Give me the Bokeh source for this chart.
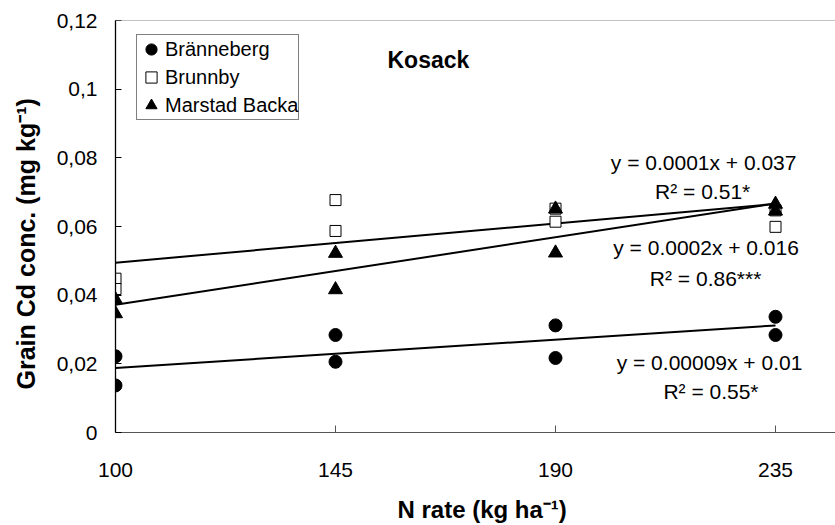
import numpy as np
from bokeh.plotting import figure
from bokeh.models import Range1d, FixedTicker, Label, Legend, LegendItem, Span
from bokeh.embed import file_html
from bokeh.resources import INLINE

# ---- data ----
x_ticks = [100, 145, 190, 235]
y_ticks = [0, 0.02, 0.04, 0.06, 0.08, 0.1, 0.12]
y_tick_labels = ["0", "0,02", "0,04", "0,06", "0,08", "0,1", "0,12"]

n_rate = [100, 100, 145, 145, 190, 190, 235, 235]
branneberg = [0.0222, 0.0137, 0.0284, 0.0206, 0.0312, 0.0217, 0.0337, 0.0284]
brunnby = [0.0448, 0.0418, 0.0677, 0.0587, 0.0652, 0.0614, 0.0647, 0.0599]
marstad = [0.0387, 0.0346, 0.0522, 0.0416, 0.0651, 0.0523, 0.0665, 0.0645]

series_names = ["Bränneberg", "Brunnby", "Marstad Backa"]
equations = [
    ("y = 0.00009x + 0.01", "R\u00b2 = 0.55*"),
    ("y = 0.0001x + 0.037", "R\u00b2 = 0.51*"),
    ("y = 0.0002x + 0.016", "R\u00b2 = 0.86***"),
]
panel_title = "Kosack"

FONT = "Liberation Sans"

p = figure(width=835, height=525, output_backend="svg", toolbar_location=None,
           x_range=Range1d(100, 247.27), y_range=Range1d(0, 0.12),
           min_border_left=115, min_border_right=0, min_border_top=20,
           min_border_bottom=92)
p.outline_line_color = None
p.xgrid.visible = False
p.ygrid.visible = False
p.background_fill_color = "white"
p.border_fill_color = "white"

# x axis
xa = p.xaxis[0]
xa.ticker = FixedTicker(ticks=x_ticks)
xa.axis_line_color = "#555555"
xa.major_tick_line_color = "#555555"
xa.major_tick_in = 7
xa.major_tick_out = 0
xa.minor_tick_line_color = None
xa.major_label_text_font = FONT
xa.major_label_text_font_size = "21px"
xa.major_label_text_color = "black"
xa.major_label_standoff = 30
xa.axis_label = "\u00a0\u00a0N rate (kg ha\u207b\u00b9)"
xa.axis_label_text_font = FONT
xa.axis_label_text_font_style = "bold"
xa.axis_label_text_font_size = "24px"
xa.axis_label_text_color = "black"
xa.axis_label_standoff = 16

# y axis
ya = p.yaxis[0]
ya.ticker = FixedTicker(ticks=y_ticks)
ya.major_label_overrides = {v: s for v, s in zip(y_ticks, y_tick_labels)}
ya.axis_line_color = "black"
ya.axis_line_width = 1.3
ya.major_tick_line_color = "black"
ya.major_tick_in = 6
ya.major_tick_out = 0
ya.minor_tick_line_color = None
ya.major_label_text_font = FONT
ya.major_label_text_font_size = "21px"
ya.major_label_text_color = "black"
ya.major_label_standoff = 18
ya.axis_label = "Grain Cd conc. (mg kg\u207b\u00b9)\u00a0\u00a0\u00a0\u00a0\u00a0"
ya.axis_label_text_font = FONT
ya.axis_label_text_font_style = "bold"
ya.axis_label_text_font_size = "25px"
ya.axis_label_text_color = "black"
ya.axis_label_standoff = 14

p.add_layout(Span(location=0.12, dimension="width", line_color="#888888", line_width=1))

# trend lines (least squares fit of each series)
for ys in (branneberg, brunnby, marstad):
    slope, intercept = np.polyfit(n_rate, ys, 1)
    xs = np.array([min(n_rate), max(n_rate)], dtype=float)
    p.line(xs, slope * xs + intercept, line_color="black", line_width=2)

r1 = p.scatter(n_rate, branneberg, marker="circle", size=13,
               fill_color="black", line_color="black")
r2 = p.scatter(n_rate, brunnby, marker="square", size=11,
               fill_color="white", line_color="black", line_width=1)
r3 = p.scatter(n_rate, marstad, marker="triangle", size=14,
               fill_color="black", line_color="black")

legend = Legend(
    items=[LegendItem(label=series_names[0], renderers=[r1]),
           LegendItem(label=series_names[1], renderers=[r2]),
           LegendItem(label=series_names[2], renderers=[r3])],
    location=(21, 312), glyph_width=28, glyph_height=28, padding=0, spacing=0,
    label_standoff=0, border_line_color="black", border_line_width=1,
    background_fill_color="white", background_fill_alpha=1.0,
    label_text_font=FONT, label_text_font_size="20px", label_text_color="black",
    margin=0)
p.add_layout(legend)

p.add_layout(Label(x=164.0, y=0.1084, text=panel_title, text_font=FONT,
                   text_font_size="23px", text_font_style="bold", text_color="black",
                   text_align="center", text_baseline="middle"))

eq_pos = [((221.5, 0.02025), (221.8, 0.0120)),
          ((220.3, 0.07875), (220.1, 0.07032)),
          ((220.8, 0.05376), (220.7, 0.04496))]
for (l1, l2), ((x1, y1), (x2, y2)) in zip(equations, eq_pos):
    for t, x, y in ((l1, x1, y1), (l2, x2, y2)):
        p.add_layout(Label(x=x, y=y, text=t, text_font=FONT, text_font_size="21px",
                           text_align="center", text_baseline="middle",
                           text_color="black"))

open("out.html", "w").write(file_html(p, INLINE))
